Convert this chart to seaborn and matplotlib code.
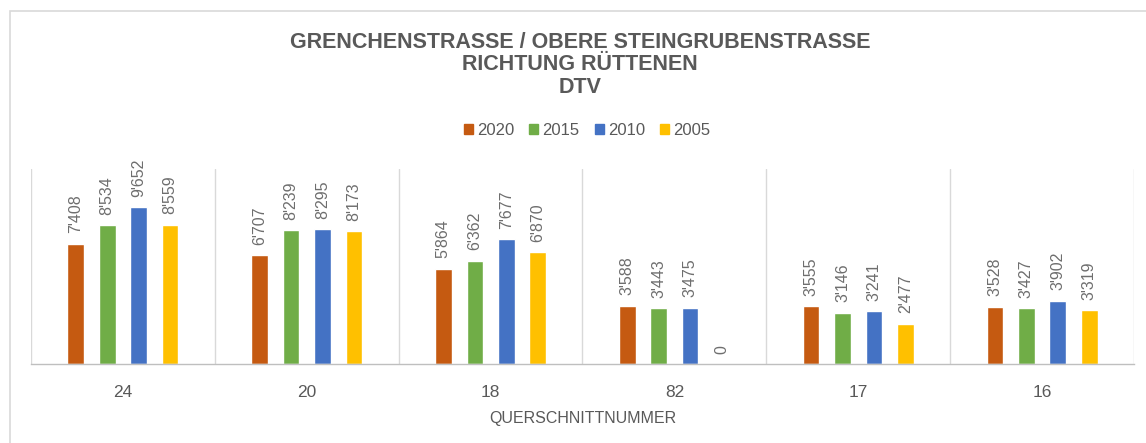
import matplotlib
matplotlib.use("Agg")
import matplotlib.pyplot as plt
import matplotlib.patches as mpatches
import pandas as pd
import seaborn as sns

# data
querschnitte = ["24", "20", "18", "82", "17", "16"]
jahre = ["2020", "2015", "2010", "2005"]
dtv_2020 = [7408, 6707, 5864, 3588, 3555, 3528]
dtv_2015 = [8534, 8239, 6362, 3443, 3146, 3427]
dtv_2010 = [9652, 8295, 7677, 3475, 3241, 3902]
dtv_2005 = [8559, 8173, 6870, 0, 2477, 3319]

farben = {"2020": "#C55A11", "2015": "#70AD47", "2010": "#4472C4", "2005": "#FFC000"}
grau = "#595959"

rows = []
for jahr, werte in zip(jahre, [dtv_2020, dtv_2015, dtv_2010, dtv_2005]):
    for q, v in zip(querschnitte, werte):
        rows.append({"Querschnitt": q, "Jahr": jahr, "DTV": v})
df = pd.DataFrame(rows)

sns.set_theme(style="white")
plt.rcParams["font.family"] = ["Liberation Sans", "DejaVu Sans"]

fig = plt.figure(figsize=(11.46, 4.43), dpi=100)
ax = fig.add_axes([31 / 1146, (443 - 364) / 443, (1134 - 31) / 1146, (364 - 169) / 443])

sns.barplot(data=df, x="Querschnitt", y="DTV", hue="Jahr", order=querschnitte,
            hue_order=jahre, palette=farben, width=0.685, gap=0.47,
            saturation=1, ax=ax, legend=False)

for cont in ax.containers:
    labels = [f"{int(b.get_height()):,}".replace(",", "'") for b in cont]
    ax.bar_label(cont, labels=labels, rotation=90, padding=7.5,
                 fontsize=11.5, color="#6E6E6E")

ax.set_ylim(0, 12000)
ax.set_xlim(-0.5, len(querschnitte) - 0.5)
for i in range(len(querschnitte) + 1):
    ax.axvline(i - 0.5, color="#D9D9D9", lw=1, zorder=0)

for s in ["top", "right", "left"]:
    ax.spines[s].set_visible(False)
ax.spines["bottom"].set_color("#BFBFBF")
ax.spines["bottom"].set_linewidth(1)
ax.set_yticks([])
ax.tick_params(axis="x", length=0, pad=15, labelsize=12.5, labelcolor=grau)
ax.set_ylabel("")
ax.set_xlabel("QUERSCHNITTNUMMER", fontsize=11.5, color=grau, labelpad=8)

fig.text(0.506, 1 - 65 / 443, "GRENCHENSTRASSE / OBERE STEINGRUBENSTRASSE\nRICHTUNG RÜTTENEN\nDTV",
         ha="center", va="center", fontsize=15.5, fontweight="bold", color=grau,
         linespacing=1.1)

handles = [mpatches.Patch(color=farben[j], label=j) for j in jahre]
fig.legend(handles=handles, loc="center", bbox_to_anchor=(587 / 1146, 1 - 130 / 443),
           ncol=4, frameon=False, fontsize=12, handlelength=0.55, handleheight=0.55,
           handletextpad=0.25, columnspacing=0.9, labelcolor=grau)

# light frame of the chart area
fig.patches.append(mpatches.Rectangle((10 / 1146, -0.1), 1.2, 1 - 11 / 443 + 0.1,
                                      transform=fig.transFigure, fill=False,
                                      edgecolor="#D9D9D9", lw=1.2))

fig.savefig("out.png", dpi=100)
